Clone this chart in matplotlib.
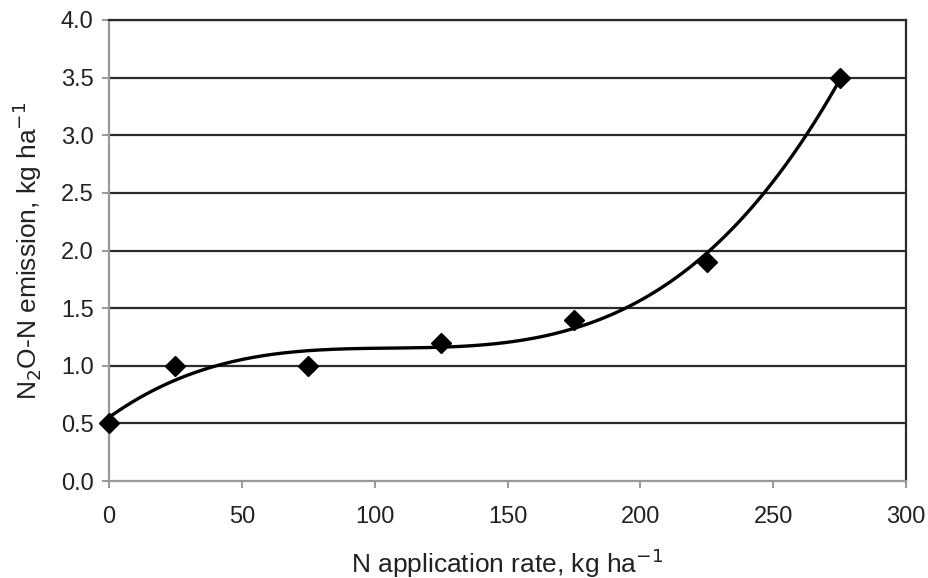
import numpy as np
import matplotlib.pyplot as plt

plt.rcParams['font.family'] = ['Liberation Sans', 'DejaVu Sans']

# N application rate (kg/ha) and measured N2O-N emission (kg/ha)
n_rate = [0, 25, 75, 125, 175, 225, 275]
n2o_emission = [0.5, 1.0, 1.0, 1.2, 1.4, 1.9, 3.5]

x_ticks = [0, 50, 100, 150, 200, 250, 300]
y_ticks = [0.0, 0.5, 1.0, 1.5, 2.0, 2.5, 3.0, 3.5, 4.0]

# polynomial trendline like the spreadsheet one
coef = np.polyfit(n_rate, n2o_emission, 3)
xs = np.linspace(0, 275, 300)
ys = np.polyval(coef, xs)

fig = plt.figure(figsize=(9.29, 5.78), dpi=100)
ax = fig.add_axes([0.1173, 0.1678, 0.858, 0.7976])

for y in y_ticks[1:]:
    ax.axhline(y, color='#2a2a2a', lw=1.6, zorder=1)

ax.plot(xs, ys, color='black', lw=2.4, zorder=2)
ax.plot(n_rate, n2o_emission, 'D', color='black', ms=10, zorder=3, clip_on=False)

ax.set_xlim(0, 300)
ax.set_ylim(0, 4)
ax.set_xticks(x_ticks)
ax.set_yticks(y_ticks)
ax.set_yticklabels([f'{v:.1f}' for v in y_ticks])

ax.spines['left'].set_color('#999999')
ax.spines['bottom'].set_color('#999999')
ax.spines['left'].set_linewidth(1.6)
ax.spines['bottom'].set_linewidth(1.6)
ax.spines['top'].set_color('#2a2a2a')
ax.spines['right'].set_color('#2a2a2a')
ax.spines['top'].set_linewidth(1.6)
ax.spines['right'].set_linewidth(1.6)

ax.tick_params(axis='both', direction='out', length=5, width=1.4, color='#999999',
               labelsize=17, labelcolor='#222222')
ax.tick_params(axis='x', pad=13)
ax.tick_params(axis='y', pad=6)

ax.set_xlabel('N application rate, kg ha$^{-1}$', fontsize=19, color='#222222', labelpad=13)
ax.set_ylabel('N$_2$O-N emission, kg ha$^{-1}$', fontsize=19, color='#222222', labelpad=12)

fig.savefig('out.png', dpi=100)
